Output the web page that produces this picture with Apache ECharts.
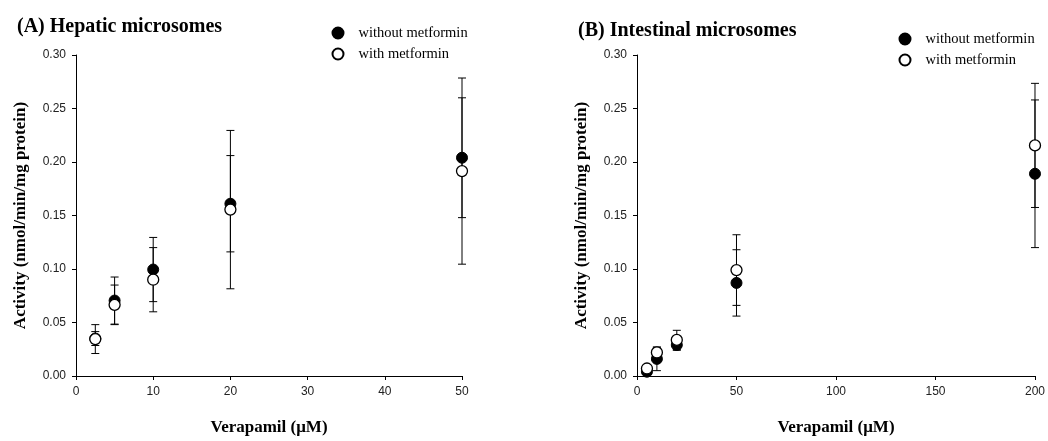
<!DOCTYPE html>
<html>
<head>
<meta charset="utf-8">
<script src="https://cdn.jsdelivr.net/npm/echarts@6/dist/echarts.min.js"></script>
<style>
html,body{margin:0;padding:0;background:#fff;}
#chart{width:1048px;height:441px;}
</style>
</head>
<body>
<div id="chart"></div>
<script>
// ---- Data ----
const seriesNames = ['without metformin', 'with metformin'];

// (A) Hepatic microsomes
const hepX = [2.5, 5, 10, 20, 50];
const hepWithout = [0.035, 0.0705, 0.0995, 0.161, 0.204];
const hepWithoutErr = [0.0065, 0.022, 0.030, 0.045, 0.056];
const hepWith = [0.0345, 0.0665, 0.090, 0.1555, 0.1915];
const hepWithErr = [0.0135, 0.0185, 0.030, 0.074, 0.087];

// (B) Intestinal microsomes
const intX = [5, 10, 20, 50, 200];
const intWithout = [0.004, 0.016, 0.029, 0.087, 0.189];
const intWithoutErr = [0.002, 0.011, 0.005, 0.031, 0.069];
const intWith = [0.007, 0.022, 0.0337, 0.099, 0.2155];
const intWithErr = [0.002, 0.005, 0.009, 0.033, 0.058];

// Axis ticks
const hepXTicks = {min: 0, max: 50, interval: 10};
const intXTicks = {min: 0, max: 200, interval: 50};
const yTicks = {min: 0, max: 0.30, interval: 0.05};

// ---- Helpers ----
function pts(xs, ys) { return xs.map((x, i) => [x, ys[i]]); }
function errs(xs, ys, es) { return xs.map((x, i) => [x, ys[i] - es[i], ys[i] + es[i]]); }

function errRender(params, api) {
  const x = api.value(0), lo = api.value(1), hi = api.value(2);
  const a = api.coord([x, hi]);
  const b = api.coord([x, lo]);
  const w = 4;
  const st = {stroke: '#000', lineWidth: 1};
  return {
    type: 'group',
    children: [
      {type: 'line', shape: {x1: a[0], y1: a[1], x2: b[0], y2: b[1]}, style: st},
      {type: 'line', shape: {x1: a[0] - w, y1: a[1], x2: a[0] + w, y2: a[1]}, style: st},
      {type: 'line', shape: {x1: b[0] - w, y1: b[1], x2: b[0] + w, y2: b[1]}, style: st}
    ]
  };
}

const serif = '"Liberation Serif", "Times New Roman", serif';
const sans = '"Liberation Sans", Arial, sans-serif';

function xAxisCfg(gi, ticks) {
  return {
    type: 'value', gridIndex: gi, min: ticks.min, max: ticks.max, interval: ticks.interval,
    name: 'Verapamil (\u03BCM)', nameLocation: 'middle', nameGap: 43,
    nameTextStyle: {fontFamily: serif, fontWeight: 'bold', fontSize: 17, color: '#000'},
    axisLine: {show: true, lineStyle: {color: '#000', width: 1}},
    axisTick: {show: true, length: 4, lineStyle: {color: '#000'}},
    axisLabel: {fontFamily: sans, fontSize: 12, color: '#222', margin: 10},
    splitLine: {show: false}
  };
}
function yAxisCfg(gi) {
  return {
    type: 'value', gridIndex: gi, min: yTicks.min, max: yTicks.max, interval: yTicks.interval,
    name: 'Activity (nmol/min/mg protein)', nameLocation: 'middle', nameGap: 47,
    nameTextStyle: {fontFamily: serif, fontWeight: 'bold', fontSize: 17, color: '#000'},
    axisLine: {show: true, lineStyle: {color: '#000', width: 1}},
    axisTick: {show: true, length: 4, lineStyle: {color: '#000'}},
    axisLabel: {fontFamily: sans, fontSize: 12, color: '#222', margin: 10,
      formatter: v => v.toFixed(2)},
    splitLine: {show: false}
  };
}

const filledStyle = {color: '#000', borderColor: '#000', borderWidth: 1, opacity: 1};
const openStyle = {color: '#fff', borderColor: '#000', borderWidth: 1.3, opacity: 1};

function errSeries(gi, data) {
  return {
    type: 'custom', xAxisIndex: gi, yAxisIndex: gi, renderItem: errRender,
    data: data, encode: {x: 0, y: [1, 2]}, z: 1, silent: true
  };
}
function scatter(gi, name, data, style, z) {
  return {
    type: 'scatter', name: name, xAxisIndex: gi, yAxisIndex: gi,
    symbol: 'circle', symbolSize: 11, itemStyle: style, data: data, z: z,
    emphasis: {disabled: true}
  };
}

function legendCfg(left, top) {
  return {
    data: seriesNames, orient: 'vertical', left: left, top: top,
    itemWidth: 11, itemHeight: 11, itemGap: 6, selectedMode: false,
    itemStyle: {opacity: 1},
    textStyle: {fontFamily: serif, fontSize: 14.5, color: '#000', padding: [0, 0, 0, 10], lineHeight: 14}
  };
}

const option = {
  backgroundColor: '#fff',
  animation: false,
  title: [
    {text: '(A) Hepatic microsomes', left: 12, top: 12,
      textStyle: {fontFamily: serif, fontWeight: 'bold', fontSize: 20, color: '#000'}},
    {text: '(B) Intestinal microsomes', left: 573, top: 16,
      textStyle: {fontFamily: serif, fontWeight: 'bold', fontSize: 20, color: '#000'}}
  ],
  legend: [legendCfg(326.5, 20.5), legendCfg(893.5, 26.5)],
  grid: [
    {left: 76, top: 55, width: 386, height: 328},
    {left: 637, top: 55, width: 399, height: 328}
  ],
  xAxis: [xAxisCfg(0, hepXTicks), xAxisCfg(1, intXTicks)],
  yAxis: [yAxisCfg(0), yAxisCfg(1)],
  series: [
    errSeries(0, errs(hepX, hepWithout, hepWithoutErr)),
    errSeries(0, errs(hepX, hepWith, hepWithErr)),
    scatter(0, seriesNames[0], pts(hepX, hepWithout), filledStyle, 3),
    scatter(0, seriesNames[1], pts(hepX, hepWith), openStyle, 4),
    errSeries(1, errs(intX, intWithout, intWithoutErr)),
    errSeries(1, errs(intX, intWith, intWithErr)),
    scatter(1, seriesNames[0], pts(intX, intWithout), filledStyle, 3),
    scatter(1, seriesNames[1], pts(intX, intWith), openStyle, 4)
  ]
};

const chart = echarts.init(document.getElementById('chart'), null, {renderer: 'canvas'});
chart.setOption(option);
</script>
</body>
</html>
